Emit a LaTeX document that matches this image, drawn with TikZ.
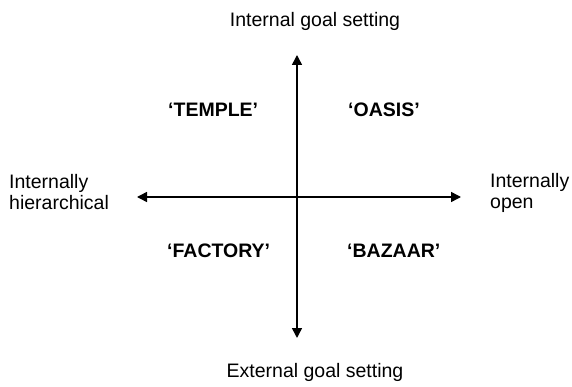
\documentclass[tikz,border=0pt]{standalone}
\usepackage{fontspec}
\setmainfont{Liberation Sans}
\usetikzlibrary{arrows.meta}
\begin{document}
\begin{tikzpicture}[x=1pt,y=-1pt,
  lbl/.style={inner sep=0pt,font=\fontsize{19.5pt}{21.5pt}\selectfont},
  quad/.style={inner sep=0pt,anchor=base west,font=\fontsize{19.5pt}{21.5pt}\selectfont\bfseries},
  axis/.style={line width=1.5pt,{Triangle[length=10pt,width=10pt]}-{Triangle[length=10pt,width=10pt]}}]
\useasboundingbox (0,0) rectangle (572,387);
\coordinate (top) at (297,55);
\coordinate (bot) at (297,338);
\coordinate (lft) at (137,197);
\coordinate (rgt) at (461,197);
\draw[axis] (top) -- (bot);
\draw[axis] (lft) -- (rgt);
\node[lbl,anchor=base] (ig) at (315,27) {Internal goal setting};
\node[lbl,anchor=base] (eg) at (315,377) {External goal setting};
\node[lbl,anchor=north west,align=left] (ih) at (9,174) {Internally\\hierarchical};
\node[lbl,anchor=north west,align=left] (io) at (490,173) {Internally\\open};
\node[quad] (temple) at (168,117) {‘TEMPLE’};
\node[quad] (oasis) at (348,117) {‘OASIS’};
\node[quad] (factory) at (167,257) {‘FACTORY’};
\node[quad] (bazaar) at (347,257) {‘BAZAAR’};
\end{tikzpicture}
\end{document}
